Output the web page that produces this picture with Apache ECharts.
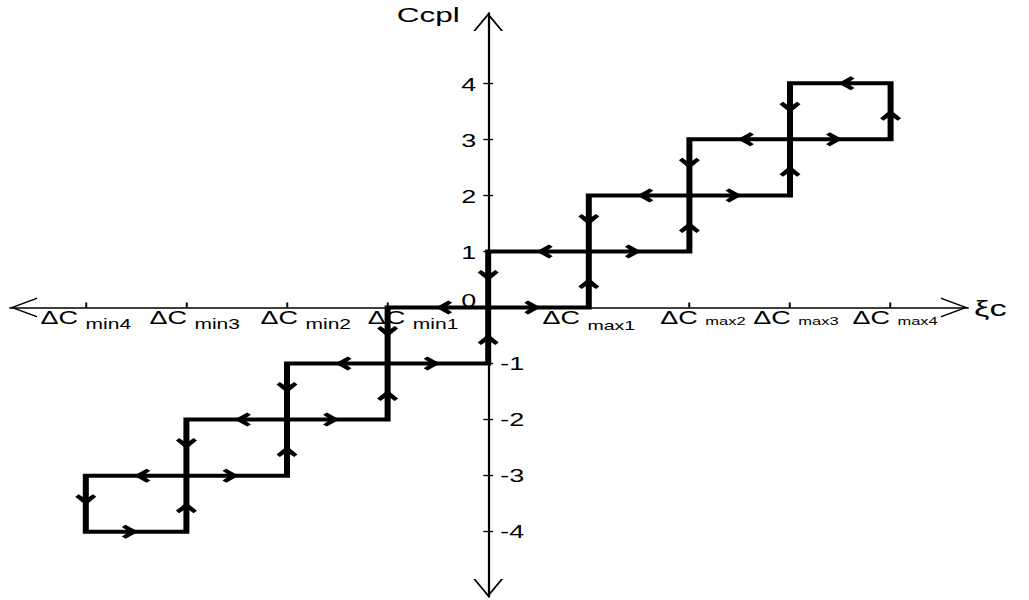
<!DOCTYPE html>
<html>
<head>
<meta charset="utf-8">
<script src="https://cdn.jsdelivr.net/npm/echarts@6.0.0/dist/echarts.min.js"></script>
<style>
  html, body { margin: 0; padding: 0; background: #fff; overflow: hidden; }
  /* the original figure is stretched sideways, so draw narrow and widen it */
  #chart { width: 686px; height: 600px; transform: scaleX(1.5); transform-origin: 0 0; }
</style>
</head>
<body>
<div id="chart"></div>
<script>
// staircase hysteresis loop: rising branch, then falling branch
const rising = [[-4, -4], [-3, -4], [-3, -3], [-2, -3], [-2, -2], [-1, -2], [-1, -1], [0, -1],
  [0, 0], [1, 0], [1, 1], [2, 1], [2, 2], [3, 2], [3, 3], [4, 3], [4, 4]];
const falling = [[4, 4], [3, 4], [3, 3], [2, 3], [2, 2], [1, 2], [1, 1], [0, 1],
  [0, 0], [-1, 0], [-1, -1], [-2, -1], [-2, -2], [-3, -2], [-3, -3], [-4, -3], [-4, -4]];

const xTickValues = [-4, -3, -2, -1, 1, 2, 3, 4];
const xTickSubs = ["min4", "min3", "min2", "min1", "max1", "max2", "max3", "max4"];
const yTickValues = [-4, -3, -2, -1, 1, 2, 3, 4];
const yUpperLabels = [0, 1, 2, 3, 4];
const yLowerLabels = [-1, -2, -3, -4];

const FONT = '"Liberation Sans", Arial, sans-serif';
const AXIS_ARROW = "path://M0,18 L10,0 L20,18 L18.5,18 L10,2.7 L1.5,18 Z";
const FLOW_ARROW = "path://M7,0 L14,8.5 L11.8,11 L7,6.2 L2.2,11 L0,8.5 Z";

// plot area (the axes cross at data 0,0 inside it)
const GRID = { left: 6.7, right: 40.7, top: 13, bottom: 3 };
const X_MIN = -4.753, X_MAX = 4.769;
const Y_MIN = -5.165, Y_MAX = 5.254;
const W = 686, H = 600;
const plotW = W - GRID.left - GRID.right;
const plotH = H - GRID.top - GRID.bottom;
const zeroX = GRID.left + (0 - X_MIN) / (X_MAX - X_MIN) * plotW;
const zeroY = GRID.top + (Y_MAX - 0) / (Y_MAX - Y_MIN) * plotH;

// label look, per tick
const subSize = [14, 14, 14, 14, 13, 11, 11, 11];
const subDrop = [14, 14, 14, 14, 17, 8, 8, 8];
const labelNudge = [0, 11, 25, 34, 0, 18, 8, 6];

const xRich = {};
xTickSubs.forEach((s, i) => {
  xRich["d" + i] = { fontSize: 18, lineHeight: 20, fontFamily: FONT, color: "#000", padding: [0, 0, 0, labelNudge[i]] };
  xRich["s" + i] = { fontSize: subSize[i], lineHeight: 20, fontFamily: FONT, color: "#000", padding: [subDrop[i], 0, 0, 0] };
});

function arrowsOf(branch) {
  const out = [];
  for (let i = 1; i < branch.length; i++) {
    const p = branch[i - 1], q = branch[i];
    const dx = Math.sign(q[0] - p[0]), dy = Math.sign(q[1] - p[1]);
    out.push({
      value: [(p[0] + q[0]) / 2, (p[1] + q[1]) / 2],
      symbolRotate: Math.atan2(dy, dx) * 180 / Math.PI - 90,
      symbolOffset: [-dx * 4, dy * 4]
    });
  }
  return out;
}

const chart = echarts.init(document.getElementById("chart"), null, { renderer: "svg", width: W, height: H });

const tickStyle = { color: "#000", width: 1.3 };
const arrowLine = {
  lineStyle: { color: "#000", width: 1.5 },
  symbol: [AXIS_ARROW, AXIS_ARROW],
  symbolSize: [20, 18],
  symbolOffset: [9, -9]
};

const option = {
  animation: false,
  backgroundColor: "#fff",
  grid: Object.assign({ containLabel: false, outerBoundsMode: "none" }, GRID),
  xAxis: {
    type: "value",
    position: "bottom",
    offset: -(H - GRID.bottom - zeroY),
    min: X_MIN,
    max: X_MAX,
    axisLine: Object.assign({ onZero: false }, arrowLine),
    axisTick: { customValues: xTickValues, inside: true, length: 5, lineStyle: tickStyle },
    axisLabel: {
      customValues: xTickValues,
      margin: 0,
      hideOverlap: false,
      showMinLabel: true,
      showMaxLabel: true,
      formatter: function (v) {
        const i = xTickValues.indexOf(v);
        return "{d" + i + "|ΔC }{s" + i + "|" + xTickSubs[i] + "}";
      },
      rich: xRich
    },
    splitLine: { show: false },
    name: "ξc",
    nameLocation: "end",
    nameGap: 4,
    nameMoveOverlap: false,
    nameTextStyle: { fontSize: 23, fontFamily: FONT, color: "#000", align: "left", verticalAlign: "middle", padding: [7, 0, 0, 0] }
  },
  yAxis: [
    {
      type: "value",
      position: "left",
      offset: -(zeroX - GRID.left),
      min: Y_MIN,
      max: Y_MAX,
      axisLine: Object.assign({ onZero: false }, arrowLine),
      axisTick: { customValues: yTickValues, length: 3.3, lineStyle: tickStyle },
      axisLabel: {
        customValues: yUpperLabels,
        margin: 8,
        fontSize: 18,
        fontFamily: FONT,
        color: "#000",
        padding: [3, 0, 0, 0],
        formatter: function (v) { return v === 0 ? "{o|0}" : String(v); },
        rich: { o: { fontSize: 18, fontFamily: FONT, color: "#000", padding: [0, 0, 17, 0] } }
      },
      splitLine: { show: false },
      name: "Ccpl",
      nameLocation: "end",
      nameGap: -1.5,
      nameMoveOverlap: false,
      nameTextStyle: { fontSize: 21, fontFamily: FONT, color: "#000", align: "right", verticalAlign: "middle", padding: [0, 19, 0, 0] }
    },
    {
      type: "value",
      position: "right",
      offset: -(W - GRID.right - zeroX),
      min: Y_MIN,
      max: Y_MAX,
      axisLine: { show: false, onZero: false },
      axisTick: { customValues: yTickValues, length: 3.3, lineStyle: tickStyle },
      axisLabel: { customValues: yLowerLabels, margin: 8, fontSize: 18, fontFamily: FONT, color: "#000", padding: [3, 0, 0, 0] },
      splitLine: { show: false }
    }
  ],
  series: [
    {
      type: "line",
      data: rising.concat(falling.slice(1)),
      showSymbol: false,
      symbol: "none",
      silent: true,
      lineStyle: { color: "#000", width: 4, join: "miter", cap: "square" },
      z: 3
    },
    {
      type: "scatter",
      data: arrowsOf(rising).concat(arrowsOf(falling)),
      symbol: FLOW_ARROW,
      symbolSize: [14, 11],
      itemStyle: { color: "#000", opacity: 1 },
      silent: true,
      z: 4
    }
  ]
};

chart.setOption(option);
</script>
</body>
</html>
